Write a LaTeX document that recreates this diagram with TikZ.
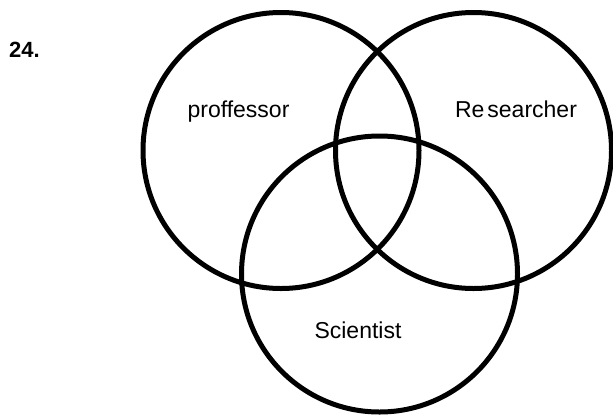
\documentclass[tikz,border=0pt]{standalone}
\usepackage{fontspec}
\setmainfont{Liberation Sans}
\usepackage{tikz}

\begin{document}
\begin{tikzpicture}[
x=1pt, y=-1pt,
venn/.style={
    circle,
    draw,
    line width=5pt,
    minimum size=276pt,
    inner sep=0pt
},
lbl/.style={
    anchor=base,
    inner sep=0pt,
    font=\fontsize{23}{27}\selectfont
}
]
\useasboundingbox (0,0) rectangle (613,416);

\node[venn] (prof) at (281,150.5) {};
\node[venn] (res) at (473.5,150.5) {};
\node[venn] (sci) at (379.5,274) {};

\node[lbl] (proflbl) at (238.5,117) {proffessor};
\node[lbl] (reslbl) at (516,117) {Re\kern3pt searcher};
\node[lbl] (scilbl) at (358,338) {Scientist};

\node[lbl, anchor=base west, font=\fontsize{22}{26}\selectfont\bfseries] (num) at (9,57.7) {24.};
\end{tikzpicture}
\end{document}
